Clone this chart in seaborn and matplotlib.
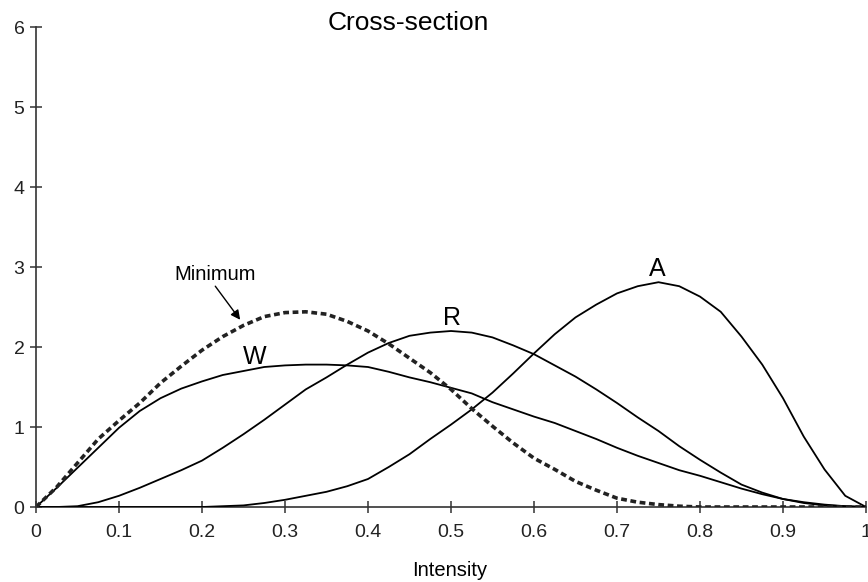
import numpy as np
import pandas as pd
import matplotlib
matplotlib.use("Agg")
import matplotlib.pyplot as plt
import seaborn as sns

# ---- data ----
intensity = [0.0, 0.025, 0.05, 0.075, 0.1, 0.125, 0.15, 0.175, 0.2, 0.225,
             0.25, 0.275, 0.3, 0.325, 0.35, 0.375, 0.4, 0.425, 0.45, 0.475,
             0.5, 0.525, 0.55, 0.575, 0.6, 0.625, 0.65, 0.675, 0.7, 0.725,
             0.75, 0.775, 0.8, 0.825, 0.85, 0.875, 0.9, 0.925, 0.95, 0.975, 1.0]

w_vals = [0.0, 0.24, 0.49, 0.74, 0.99, 1.20, 1.36, 1.48, 1.57, 1.65,
          1.70, 1.75, 1.77, 1.78, 1.78, 1.77, 1.75, 1.69, 1.62, 1.56,
          1.49, 1.42, 1.31, 1.22, 1.13, 1.05, 0.95, 0.85, 0.74, 0.64,
          0.55, 0.46, 0.39, 0.31, 0.23, 0.16, 0.10, 0.06, 0.03, 0.01, 0.0]

r_vals = [0.0, 0.0, 0.01, 0.06, 0.14, 0.24, 0.35, 0.46, 0.58, 0.74,
          0.91, 1.09, 1.28, 1.47, 1.62, 1.78, 1.93, 2.05, 2.14, 2.18,
          2.20, 2.18, 2.12, 2.02, 1.91, 1.77, 1.63, 1.47, 1.30, 1.12,
          0.95, 0.76, 0.59, 0.43, 0.28, 0.18, 0.10, 0.05, 0.02, 0.01, 0.0]

a_vals = [0.0, 0.0, 0.0, 0.0, 0.0, 0.0, 0.0, 0.0, 0.0, 0.01,
          0.02, 0.05, 0.09, 0.14, 0.19, 0.26, 0.35, 0.50, 0.66, 0.85,
          1.03, 1.22, 1.43, 1.67, 1.92, 2.16, 2.37, 2.53, 2.67, 2.76,
          2.81, 2.76, 2.63, 2.44, 2.13, 1.78, 1.36, 0.88, 0.47, 0.14, 0.0]

min_vals = [0.0, 0.25, 0.55, 0.85, 1.08, 1.30, 1.55, 1.76, 1.96, 2.13,
            2.27, 2.38, 2.43, 2.44, 2.41, 2.32, 2.20, 2.04, 1.86, 1.68,
            1.47, 1.23, 1.01, 0.80, 0.61, 0.47, 0.32, 0.21, 0.11, 0.06,
            0.03, 0.01, 0.0, 0.0, 0.0, 0.0, 0.0, 0.0, 0.0, 0.0, 0.0]

x_ticks = [0, 0.1, 0.2, 0.3, 0.4, 0.5, 0.6, 0.7, 0.8, 0.9, 1]
x_tick_labels = ["0", "0.1", "0.2", "0.3", "0.4", "0.5", "0.6", "0.7", "0.8", "0.9", "1"]
y_ticks = [0, 1, 2, 3, 4, 5, 6]

curve_labels = ["W", "R", "A"]
curve_label_pos = [(0.263, 1.88), (0.501, 2.36), (0.749, 2.98)]

# ---- styling ----
sns.set_theme(style="ticks")
plt.rcParams['font.family'] = ['Liberation Sans', 'DejaVu Sans']

fig = plt.figure(figsize=(8.68, 5.82), dpi=100)
ax = fig.add_axes([36 / 868, 1 - 507 / 582, 830 / 868, 480 / 582])

df = pd.DataFrame({"Intensity": intensity, "W": w_vals, "R": r_vals,
                   "A": a_vals, "Minimum": min_vals})

for col in ["W", "R", "A"]:
    sns.lineplot(data=df, x="Intensity", y=col, ax=ax, color="black",
                 linewidth=1.3, legend=False)
sns.lineplot(data=df, x="Intensity", y="Minimum", ax=ax, color="#222222",
             linewidth=2.6, linestyle=(0, (1.6, 1.0)), legend=False)

ax.set_xlim(0, 1)
ax.set_ylim(0, 6)
ax.set_xticks(x_ticks)
ax.set_xticklabels(x_tick_labels)
ax.set_yticks(y_ticks)
ax.set_xlabel("")
ax.set_ylabel("")

for s in ["top", "right"]:
    ax.spines[s].set_visible(False)
for s in ["left", "bottom"]:
    ax.spines[s].set_color("#333333")
    ax.spines[s].set_linewidth(1.2)
ax.spines["bottom"].set_zorder(0.5)

ax.tick_params(axis="both", direction="inout", length=8.5, width=1.1,
               color="#333333", labelsize=14, labelcolor="#222222")
ax.tick_params(axis="x", pad=8)
ax.tick_params(axis="y", pad=4)
for lbl in ax.get_xticklabels() + ax.get_yticklabels():
    lbl.set_clip_on(False)

for lab, (lx, ly) in zip(curve_labels, curve_label_pos):
    ax.text(lx, ly, lab, fontsize=18, ha="center", va="center", color="black")

ax.text(0.216, 2.9, "Minimum", fontsize=14.5, ha="center", va="center",
        color="black")
ax.annotate("", xy=(0.246, 2.34), xytext=(0.216, 2.76),
            arrowprops=dict(arrowstyle="-|>", color="black", lw=1.0,
                            mutation_scale=14, shrinkA=0, shrinkB=0))

fig.text(408 / 868, 1 - 23 / 582, "Cross-section", fontsize=19,
         ha="center", va="center", color="black")
fig.text(450 / 868, 1 - 570 / 582, "Intensity", fontsize=14.5,
         ha="center", va="center", color="black")

fig.savefig("out.png", dpi=100)
